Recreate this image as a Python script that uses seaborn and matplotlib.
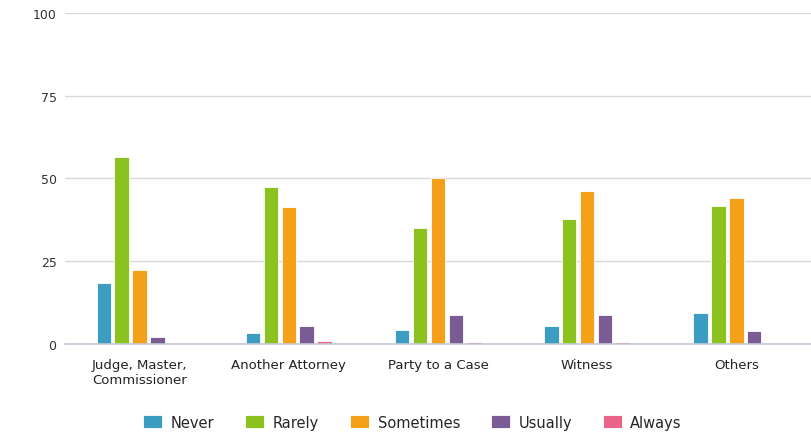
import pandas as pd
import seaborn as sns
import matplotlib.pyplot as plt
from matplotlib.ticker import FixedLocator

# --- Data ---
categories = ["Judge, Master,\nCommissioner", "Another Attorney", "Party to a Case", "Witness", "Others"]
responses = ["Never", "Rarely", "Sometimes", "Usually", "Always"]
never = [18.4, 3.3, 4.2, 5.4, 9.4]
rarely = [56.5, 47.4, 35.0, 37.8, 41.7]
sometimes = [22.4, 41.4, 50.0, 46.2, 44.1]
usually = [2.1, 5.4, 8.8, 8.8, 3.9]
always = [0.0, 0.9, 0.6, 0.6, 0.0]
colors = ["#3b9dc1", "#8cc21f", "#f4a019", "#7a5b93", "#ea6487"]

rows = []
for resp, vals in zip(responses, [never, rarely, sometimes, usually, always]):
    for cat, v in zip(categories, vals):
        rows.append({"Category": cat, "Response": resp, "Value": v})
df = pd.DataFrame(rows)

sns.set_style("white")
fig = plt.figure(figsize=(8.11, 4.35), dpi=100)
ax = fig.add_axes([0.080, 0.207, 0.92, 0.761])

sns.barplot(
    data=df, x="Category", y="Value", hue="Response",
    order=categories, hue_order=responses, palette=colors, saturation=1,
    width=0.6, gap=0.2, errorbar=None, ax=ax,
    edgecolor="white", linewidth=0.6,
)

ax.set_ylim(0, 100)
ax.set_xlim(-0.5, len(categories) - 0.5)
ax.set_yticks([0, 25, 50, 75, 100])
ax.yaxis.grid(True, color="#d8d8d8", linewidth=1)
ax.set_axisbelow(True)
for s in ["top", "right", "left"]:
    ax.spines[s].set_visible(False)
ax.spines["bottom"].set_color("#c0cad6")
ax.spines["bottom"].set_linewidth(1.2)

ax.tick_params(axis="y", length=0, labelsize=9, labelcolor="#333333", pad=6)
ax.tick_params(axis="x", which="major", length=0, labelsize=9.5, labelcolor="#222222", pad=10)
ax.xaxis.set_minor_locator(FixedLocator([i - 0.5 for i in range(len(categories) + 1)]))
ax.tick_params(axis="x", which="minor", length=10, color="#c0cad6", width=1.2)
ax.set_xlabel("")
ax.set_ylabel("")

ax.legend(
    loc="center", bbox_to_anchor=(0.466, -0.236), ncol=5, frameon=False,
    fontsize=10.5, handlelength=1.3, handleheight=1.0, columnspacing=2.1,
    handletextpad=0.6,
)

fig.savefig("out.png", dpi=100)
